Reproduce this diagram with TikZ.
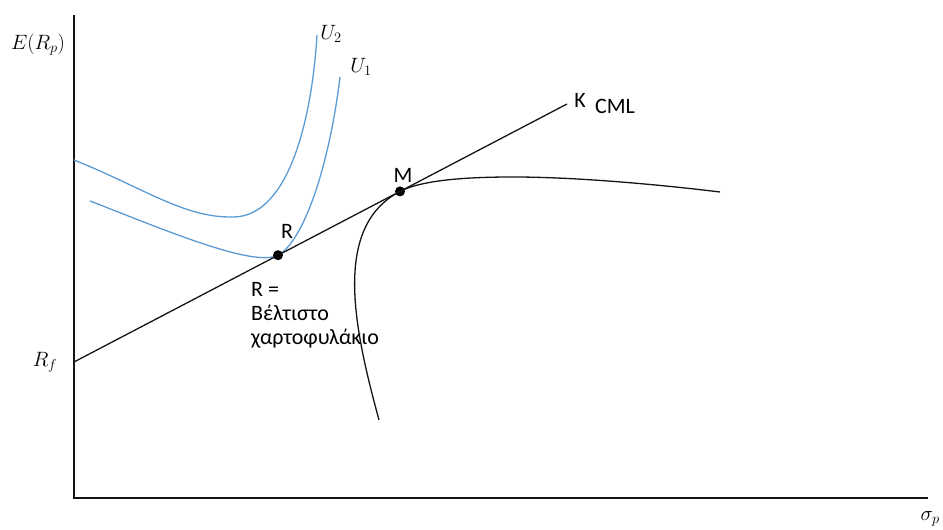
\documentclass[tikz,border=0pt]{standalone}
\usepackage{fontspec}
\setmainfont{Carlito}
\usetikzlibrary{positioning}
\definecolor{utilblue}{RGB}{91,155,213}
\definecolor{inkblack}{RGB}{20,20,20}

\tikzset{
  axisline/.style={inkblack,line width=1.6pt},
  frontline/.style={inkblack,line width=1.3pt},
  indiff/.style={utilblue,line width=1.3pt},
  dot/.style={circle,fill=black,inner sep=0pt,minimum size=10pt},
  lbl/.style={font=\fontsize{22}{24}\selectfont,inner sep=1pt},
}

\begin{document}
\begin{tikzpicture}[x=1pt,y=1pt]
  \useasboundingbox (-74,-32) rectangle (869,498);
  % axes
  \coordinate (O) at (0,0);
  \coordinate (ytop) at (0,483);
  \coordinate (xend) at (854,0);
  \draw[axisline] (ytop) -- (O) -- (xend);
  \node[lbl] (ylab) at (-36,453) {$E(R_p)$};
  \node[lbl,anchor=east] (xlab) at (867,-21) {$\sigma_p$};

  % indifference curves
  \draw[indiff] (0,338) .. controls (70,310) and (110,280) .. (159,281)
                .. controls (215,281) and (238,380) .. (243,463);
  \draw[indiff] (16,297) .. controls (86,270) and (179,230) .. (204,242.8)
                .. controls (229,256) and (255,330) .. (266,421);
  \node[lbl] (utwo) at (257,464) {$U_2$};
  \node[lbl] (uone) at (287,431) {$U_1$};

  % capital market line
  \coordinate (Rf) at (0,136);
  \coordinate (K) at (493,394);
  \draw[frontline] (Rf) -- (K);
  \node[lbl] (rflab) at (-29,136) {$R_f$};
  \node[lbl] (klab) at (506,398) {K};
  \node[lbl] (cml) at (541,392) {CML};

  % efficient frontier
  \node[dot] (M) at (326,306.6) {};
  \node[dot] (R) at (204,242.8) {};
  \draw[frontline] (305,78) .. controls (280,170) and (258,271) .. (M.center)
                   .. controls (350,319) and (400,321) .. (439,321)
                   .. controls (500,321) and (580,314) .. (646,306);
  \node[lbl] (mlab) at (329,323) {M};
  \node[lbl] (rlab) at (213,267) {R};
  \node[lbl,anchor=north west,align=left] (optimal) at (176,217)
    {R =\\Βέλτιστο\\χαρτοφυλάκιο};
\end{tikzpicture}
\end{document}
